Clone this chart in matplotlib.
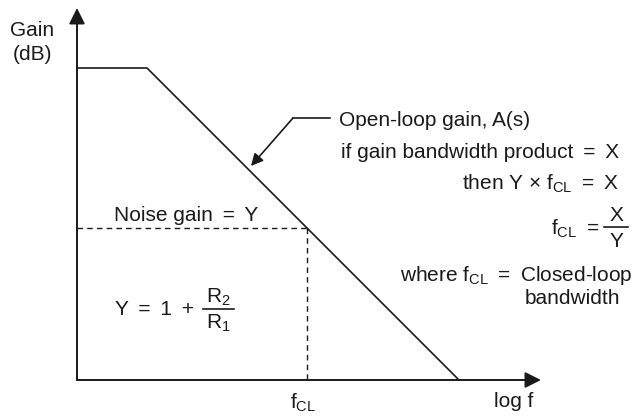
import matplotlib.pyplot as plt

plt.rcParams['font.family'] = ['Liberation Sans', 'DejaVu Sans']
plt.rcParams['mathtext.fontset'] = 'custom'
plt.rcParams['mathtext.rm'] = 'Liberation Sans'
plt.rcParams['mathtext.it'] = 'Liberation Sans:italic'
plt.rcParams['mathtext.sf'] = 'Liberation Sans'

# open-loop gain corners (x = log f position, y = gain position, screen units)
gain_x = [77, 147, 459]
gain_y = [68, 68, 380]

# noise gain level and the crossing point with the open-loop curve
noise_gain_y = 228
f_cl_x = 307

axis_origin = (77, 380)
x_axis_end = 541
y_axis_end = 8

ink = '#1a1a1a'
fs = 15
FCL = r'f$_{\mathrm{CL}}$'
EQ = ' \u2009=\u2009 '
TIMES = ' \u00d7 '
PLUS = ' \u2009+'

fig = plt.figure(figsize=(6.36, 4.18), dpi=100)
ax = fig.add_axes([0, 0, 1, 1])
ax.set_xlim(0, 636)
ax.set_ylim(418, 0)
ax.axis('off')


def label(x, y, s, ha='left'):
    # y is the text baseline
    ax.text(x, y, s, ha=ha, va='baseline', fontsize=fs, color=ink)


def fraction(x0, x1, y_bar, num, den):
    xc = (x0 + x1) / 2
    ax.plot([x0, x1], [y_bar, y_bar], color=ink, lw=1.2)
    label(xc, y_bar - 6, num, ha='center')
    label(xc, y_bar + 20, den, ha='center')


# axes with arrow heads
arrow = dict(arrowstyle='-|>', color=ink, lw=1.4, mutation_scale=24, shrinkA=0, shrinkB=0)
ax.annotate('', xy=(axis_origin[0], y_axis_end), xytext=axis_origin, arrowprops=arrow)
ax.annotate('', xy=(x_axis_end, axis_origin[1]), xytext=axis_origin, arrowprops=arrow)

# open-loop gain curve
ax.plot(gain_x, gain_y, color=ink, lw=1.2, solid_capstyle='butt')

# noise gain and closed-loop bandwidth guides
ax.plot([axis_origin[0], f_cl_x], [noise_gain_y, noise_gain_y], color=ink, lw=1.0, ls=(0, (4, 3)))
ax.plot([f_cl_x, f_cl_x], [noise_gain_y, axis_origin[1]], color=ink, lw=1.0, ls=(0, (4, 3)))

# pointer to the open-loop curve
ax.plot([330, 293], [118, 118], color=ink, lw=1.2)
ax.annotate('', xy=(251, 166), xytext=(293, 118),
            arrowprops=dict(arrowstyle='-|>', color=ink, lw=1.2, mutation_scale=18,
                            shrinkA=0, shrinkB=0))

# labels
label(32, 36, 'Gain', ha='center')
label(32, 60, '(dB)', ha='center')
label(339, 126, 'Open-loop gain, A(s)')
label(619, 158, 'if gain bandwidth product' + EQ + 'X', ha='right')
label(619, 190, 'then Y' + TIMES + FCL + EQ + 'X', ha='right')
label(599, 235, FCL + EQ.rstrip(), ha='right')
fraction(604, 628, 227, 'X', 'Y')
label(633, 281, 'where ' + FCL + EQ + 'Closed-loop', ha='right')
label(620, 304, 'bandwidth', ha='right')
label(114, 221, 'Noise gain' + EQ + 'Y')
label(115, 315, 'Y' + EQ + '1' + PLUS)
fraction(203, 234, 309, r'R$_2$', r'R$_1$')
label(303, 409, FCL, ha='center')
label(514, 407, 'log f', ha='center')

fig.savefig('out.png', dpi=100)
